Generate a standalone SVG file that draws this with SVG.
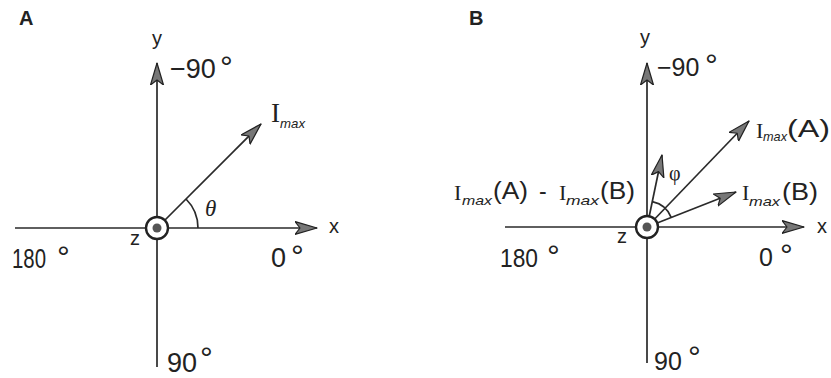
<svg xmlns="http://www.w3.org/2000/svg" width="831" height="378" viewBox="0 0 831 378">
<defs>
<style>
.ax{stroke:#2a2a2a;stroke-width:1.7;fill:none}
.lbl{font-family:"Liberation Sans",Arial,sans-serif;font-size:20px;fill:#222}
.num{font-family:"Liberation Sans",Arial,sans-serif;font-size:27px;fill:#222}
.numb{font-family:"Liberation Sans",Arial,sans-serif;font-size:25px;fill:#222}
.deg{font-size:32px}
.hd{font-family:"Liberation Sans",Arial,sans-serif;font-size:20px;font-weight:bold;fill:#222}
.ser{font-family:"Liberation Serif","Times New Roman",serif;fill:#222}
.sub{font-family:"Liberation Sans",Arial,sans-serif;font-style:italic;font-size:13px;fill:#222}
.par{font-family:"Liberation Sans",Arial,sans-serif;font-size:23px;fill:#222}
</style>
<marker id="ah" markerUnits="userSpaceOnUse" markerWidth="24" markerHeight="16" refX="22" refY="7" orient="auto">
<path d="M0,0.5 L22,7 L0,13.5 L5,7 z" fill="#777" stroke="#222" stroke-width="1.2" stroke-linejoin="round"/>
</marker>
</defs>
<rect width="831" height="378" fill="#fff"/>
<g id="connectors">
<line class="ax" x1="157" y1="367" x2="157" y2="63" marker-end="url(#ah)"/>
<line class="ax" x1="15" y1="228" x2="317" y2="228" marker-end="url(#ah)"/>
<line class="ax" x1="157" y1="228" x2="261" y2="124" marker-end="url(#ah)"/>
<path class="ax" d="M198,228 A41,41 0 0 0 186,199"/>
<line class="ax" x1="647" y1="363" x2="647" y2="63" marker-end="url(#ah)"/>
<line class="ax" x1="505" y1="227" x2="804" y2="227" marker-end="url(#ah)"/>
<line class="ax" x1="647" y1="227" x2="749" y2="121" marker-end="url(#ah)"/>
<line class="ax" x1="647" y1="227" x2="736" y2="192" marker-end="url(#ah)"/>
<line class="ax" x1="647" y1="227" x2="662" y2="155" marker-end="url(#ah)"/>
<path class="ax" d="M652.3,201.6 A26,26 0 0 1 671.3,217.6"/>
</g>
<g id="originA">
<circle cx="157" cy="228" r="11" fill="#fff" stroke="#222" stroke-width="2.4"/>
<circle cx="157" cy="228" r="4.5" fill="#555"/>
</g>
<g id="originB">
<circle cx="647" cy="227" r="11" fill="#fff" stroke="#222" stroke-width="2.4"/>
<circle cx="647" cy="227" r="4.5" fill="#555"/>
</g>
<g id="panelA">
<text class="hd" x="19" y="25">A</text>
<text class="lbl" x="152" y="45">y</text>
<text class="num" x="170" y="78">−90<tspan class="deg" x="220">°</tspan></text>
<text class="ser" x="271" y="122" font-size="27">I</text>
<text class="sub" x="280" y="128" font-style="normal" textLength="25" lengthAdjust="spacingAndGlyphs">max</text>
<text class="ser" x="205" y="216" font-size="23" font-style="italic">θ</text>
<text class="lbl" x="329" y="233">x</text>
<text class="lbl" x="130" y="245">z</text>
<text class="num" x="12" y="268" textLength="34" lengthAdjust="spacingAndGlyphs">180</text>
<text class="num deg" x="57" y="268">°</text>
<text class="num" x="271" y="267">0<tspan class="deg" x="291">°</tspan></text>
<text class="num" x="167" y="372">90<tspan class="deg" x="200" dy="-3">°</tspan></text>
</g>
<g id="panelB">
<text class="hd" x="469" y="25">B</text>
<text class="lbl" x="640" y="44">y</text>
<text class="numb" x="657" y="76">−90<tspan class="deg" x="705">°</tspan></text>
<text class="ser" x="756" y="138" font-size="22">I</text>
<text class="sub" x="763" y="141" textLength="24" lengthAdjust="spacingAndGlyphs">max</text>
<text class="par" x="787" y="137" textLength="43" lengthAdjust="spacingAndGlyphs">(A)</text>
<text class="ser" x="742" y="200" font-size="22">I</text>
<text class="sub" x="749" y="206" textLength="31" lengthAdjust="spacingAndGlyphs">max</text>
<text class="par" x="782" y="200" textLength="36" lengthAdjust="spacingAndGlyphs">(B)</text>
<text class="ser" x="454" y="200" font-size="22">I</text>
<text class="sub" x="462" y="205" textLength="30" lengthAdjust="spacingAndGlyphs">max</text>
<text class="par" x="493" y="199" textLength="35" lengthAdjust="spacingAndGlyphs">(A)</text>
<text class="par" x="539" y="199">-</text>
<text class="ser" x="559" y="200" font-size="22">I</text>
<text class="sub" x="566" y="205" textLength="33" lengthAdjust="spacingAndGlyphs">max</text>
<text class="par" x="600" y="199" textLength="35" lengthAdjust="spacingAndGlyphs">(B)</text>
<text class="ser" x="669" y="180" font-size="20">φ</text>
<text class="lbl" x="817" y="233">x</text>
<text class="lbl" x="617" y="243">z</text>
<text class="numb" x="500" y="267" textLength="38" lengthAdjust="spacingAndGlyphs">180</text>
<text class="numb deg" x="547" y="267">°</text>
<text class="numb" x="759" y="266">0<tspan class="deg" x="780">°</tspan></text>
<text class="numb" x="654" y="370">90<tspan class="deg" x="688" dy="-2">°</tspan></text>
</g>
</svg>
